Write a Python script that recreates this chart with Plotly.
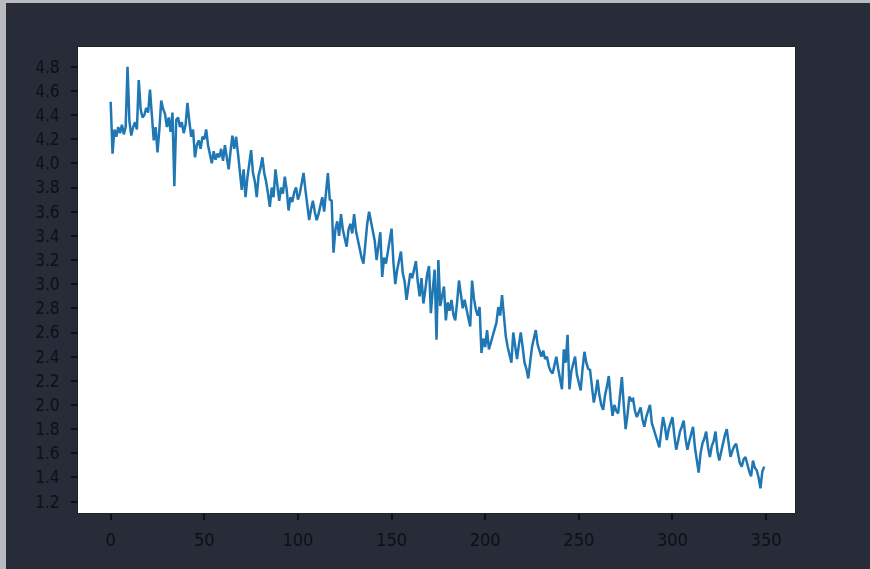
import plotly.graph_objects as go

values = [
    4.51, 4.08, 4.28, 4.22, 4.30, 4.25, 4.32, 4.24, 4.30, 4.80,
    4.35, 4.23, 4.30, 4.34, 4.28, 4.69, 4.45, 4.38, 4.40, 4.46,
    4.42, 4.61, 4.40, 4.19, 4.30, 4.09, 4.28, 4.52, 4.45, 4.41,
    4.30, 4.38, 4.26, 4.42, 3.81, 4.36, 4.38, 4.30, 4.34, 4.25,
    4.32, 4.50, 4.35, 4.22, 4.28, 4.05, 4.15, 4.19, 4.12, 4.22,
    4.20, 4.28, 4.15, 4.08, 4.00, 4.10, 4.03, 4.08, 4.05, 4.12,
    4.02, 4.15, 4.05, 3.95, 4.10, 4.23, 4.12, 4.22, 4.08, 3.90,
    3.78, 3.95, 3.72, 3.88, 3.98, 4.11, 3.92, 3.85, 3.72, 3.90,
    3.96, 4.05, 3.92, 3.85, 3.75, 3.64, 3.80, 3.72, 3.95, 3.82,
    3.69, 3.80, 3.75, 3.89, 3.78, 3.61, 3.72, 3.68, 3.76, 3.80,
    3.70, 3.75, 3.85, 3.92, 3.78, 3.65, 3.53, 3.62, 3.69, 3.60,
    3.53, 3.58, 3.64, 3.72, 3.60, 3.75, 3.92, 3.70, 3.69, 3.26,
    3.45, 3.52, 3.40, 3.58, 3.45, 3.38, 3.31, 3.45, 3.50, 3.42,
    3.58, 3.44, 3.36, 3.28, 3.22, 3.17, 3.35, 3.50, 3.60, 3.52,
    3.45, 3.36, 3.20, 3.32, 3.43, 3.06, 3.22, 3.17, 3.28, 3.35,
    3.46, 3.18, 3.00, 3.12, 3.20, 3.27, 3.09, 3.02, 2.87, 3.00,
    3.09, 3.05, 3.12, 3.19, 3.02, 2.90, 3.05, 2.84, 2.95, 3.08,
    3.15, 2.76, 2.95, 3.12, 2.54, 3.20, 2.82, 2.90, 2.98, 2.70,
    2.85, 2.78, 2.87, 2.75, 2.70, 2.85, 3.03, 2.92, 2.80, 2.87,
    2.78, 2.72, 2.65, 3.03, 2.88, 2.79, 2.74, 2.81, 2.43, 2.55,
    2.48, 2.62, 2.46, 2.52, 2.58, 2.62, 2.68, 2.81, 2.74, 2.91,
    2.70, 2.57, 2.48, 2.42, 2.35, 2.60, 2.48, 2.38, 2.50, 2.60,
    2.48, 2.35, 2.30, 2.22, 2.35, 2.48, 2.55, 2.62, 2.50, 2.44,
    2.40, 2.45, 2.38, 2.40, 2.32, 2.28, 2.26, 2.33, 2.40, 2.30,
    2.22, 2.13, 2.46, 2.35, 2.58, 2.13, 2.28, 2.35, 2.40, 2.25,
    2.18, 2.12, 2.30, 2.44, 2.35, 2.30, 2.29, 2.15, 2.02, 2.10,
    2.21, 2.08, 2.00, 1.96, 2.08, 2.15, 2.24, 2.05, 1.91, 2.00,
    1.95, 1.93, 2.10, 2.23, 2.00, 1.80, 1.92, 2.07, 2.04, 2.05,
    1.95, 1.90, 1.94, 1.98, 1.88, 1.82, 1.90, 1.95, 2.00, 1.85,
    1.80, 1.74, 1.70, 1.65, 1.78, 1.90, 1.82, 1.71, 1.80, 1.85,
    1.90, 1.75, 1.63, 1.70, 1.78, 1.82, 1.87, 1.72, 1.63, 1.70,
    1.75, 1.82, 1.65, 1.56, 1.44, 1.60, 1.68, 1.72, 1.78, 1.65,
    1.57, 1.66, 1.70, 1.78, 1.62, 1.54, 1.62, 1.70, 1.75, 1.80,
    1.68, 1.57, 1.62, 1.66, 1.68, 1.58, 1.52, 1.49, 1.55, 1.57,
    1.50, 1.45, 1.41, 1.54, 1.48, 1.46, 1.40, 1.31, 1.45, 1.49,
]
steps = list(range(len(values)))

x_ticks = [0, 50, 100, 150, 200, 250, 300, 350]
y_ticks = [1.2, 1.4, 1.6, 1.8, 2.0, 2.2, 2.4, 2.6, 2.8, 3.0, 3.2, 3.4,
           3.6, 3.8, 4.0, 4.2, 4.4, 4.6, 4.8]

BG = "#282c38"
TXT = "#0e1014"
FONT = "DejaVu Sans Condensed, DejaVu Sans"

fig = go.Figure(go.Scatter(x=steps, y=values, mode="lines",
                           line=dict(color="#1f77b4", width=2.5),
                           hoverinfo="skip"))

fig.update_layout(
    width=870, height=569,
    margin=dict(l=78, r=75, t=47, b=56),
    paper_bgcolor=BG, plot_bgcolor="white",
    showlegend=False,
    font=dict(family=FONT, size=17, color=TXT),
    shapes=[
        dict(type="rect", xref="paper", yref="paper",
             x0=-78/717, x1=1 + 75/717, y0=1 + 44/466, y1=1 + 47/466,
             fillcolor="#b8bac0", line=dict(width=0), layer="below"),
        dict(type="rect", xref="paper", yref="paper",
             x0=-78/717, x1=-72/717, y0=-56/466, y1=1 + 47/466,
             fillcolor="#b8bac0", line=dict(width=0), layer="below"),
    ],
)
fig.update_xaxes(range=[-17.45, 365.45], tickvals=x_ticks,
                 ticks="outside", ticklen=6, tickcolor=TXT, tickwidth=1.5,
                 ticklabelstandoff=4,
                 showgrid=False, zeroline=False,
                 showline=True, linecolor="#222222", linewidth=1, mirror=True,
                 tickfont=dict(family=FONT, color=TXT, size=18))
fig.update_yaxes(range=[1.106, 4.963], tickvals=y_ticks,
                 tickformat=".1f",
                 ticks="outside", ticklen=6, tickcolor=TXT, tickwidth=1.5,
                 ticklabelstandoff=8,
                 showgrid=False, zeroline=False,
                 showline=True, linecolor="#222222", linewidth=1, mirror=True,
                 tickfont=dict(family=FONT, color=TXT, size=17))

fig.write_html("out.html",
               config={"displayModeBar": False},
               post_script="document.body.style.margin='0';"
                           "document.body.style.background='" + BG + "';")
